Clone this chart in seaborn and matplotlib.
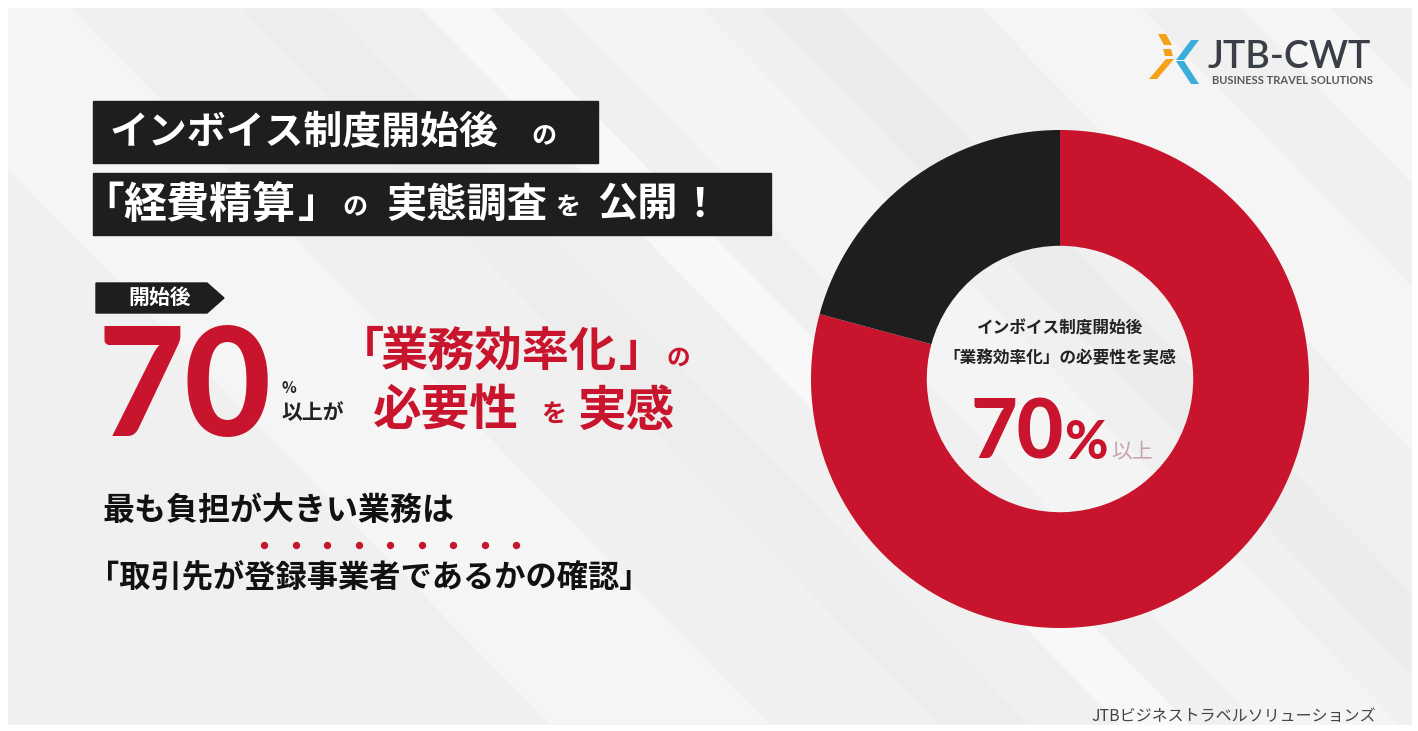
import matplotlib
matplotlib.use("Agg")
import matplotlib.pyplot as plt
from matplotlib.patches import Polygon, Rectangle
import seaborn as sns

# data
segments = ["業務効率化の必要性を実感", "その他"]
shares = [79.2, 20.8]
headline_pct = "70"
center_pct = "70"

sns.set_theme(style="white")
plt.rcParams["font.family"] = ["Noto Sans CJK JP", "DejaVu Sans"]

RED = "#c8142c"
BLACK = "#1e1e1e"
colors = sns.color_palette([RED, BLACK])

W, H = 1418, 731
fig = plt.figure(figsize=(W / 100, H / 100), dpi=100)
fig.patch.set_facecolor("white")

# background axes in pixel coordinates (y down)
bg = fig.add_axes([0, 0, 1, 1])
bg.set_xlim(0, W)
bg.set_ylim(H, 0)
bg.axis("off")

bg.add_patch(Rectangle((7, 7), 1405, 718, color="#f0f0f0", zorder=0))
# soft diagonal streaks
streaks = [(-150, 220, "white", 0.35), (240, 90, "#e8e8e8", 0.3),
           (420, 70, "white", 0.55), (560, 140, "white", 0.3),
           (760, 80, "#e6e6e6", 0.3), (980, 160, "white", 0.35),
           (1240, 90, "white", 0.45), (1400, 120, "#e9e9e9", 0.25)]
for x0, w, c, a in streaks:
    bg.add_patch(Polygon([(x0, 7), (x0 + w, 7), (x0 + w + 700, 725), (x0 + 700, 725)],
                         closed=True, color=c, alpha=a, lw=0, zorder=0.5))
bg.add_patch(Rectangle((0, 0), W, 7, color="white", zorder=0.6))
bg.add_patch(Rectangle((0, 0), 7, H, color="white", zorder=0.6))
bg.add_patch(Rectangle((0, 725), W, 6, color="white", zorder=0.6))
bg.add_patch(Rectangle((1412, 0), 6, H, color="white", zorder=0.6))

# title boxes
bg.add_patch(Rectangle((93, 101), 505, 62, color=BLACK, zorder=1))
bg.add_patch(Rectangle((93, 173), 678, 62, color=BLACK, zorder=1))
kw = dict(color="white", weight="bold", va="center", ha="left", zorder=2)
bg.text(110, 133, "インボイス制度開始後", fontsize=28, **kw)
bg.text(531, 137, "の", fontsize=18, **kw)
bg.text(82, 205, "「", fontsize=30, **kw)
bg.text(123, 205, "経費精算", fontsize=31, **kw)
bg.text(298, 205, "」", fontsize=30, **kw)
bg.text(342, 208, "の", fontsize=18, **kw)
bg.text(386, 205, "実態調査", fontsize=29, **kw)
bg.text(555, 208, "を", fontsize=18, **kw)
bg.text(597, 205, "公開", fontsize=29, **kw)
bg.text(699, 205, "！", fontsize=29, color="white", weight="bold", va="center",
        ha="center", zorder=2)

# tag
bg.add_patch(Polygon([(96, 283), (207, 283), (224, 298), (207, 313), (96, 313)],
                     closed=True, color=BLACK, zorder=1))
bg.text(160, 297, "開始後", fontsize=15, color="white", weight="bold",
        ha="center", va="center", zorder=2)

# big headline
bg.text(97, 436, headline_pct, fontsize=108, color=RED, weight="black",
        family=["Lato", "DejaVu Sans"], ha="left", va="baseline", zorder=2)
bg.text(282, 388, "%", fontsize=11, color="#222", weight="bold", ha="left", va="center")
bg.text(281, 413, "以上が", fontsize=15, color="#222", weight="bold", ha="left", va="center")
rk = dict(color=RED, weight="bold", va="center", ha="left", zorder=2)
bg.text(337, 352, "「", fontsize=34, **rk)
bg.text(381, 352, "業務効率化", fontsize=34, **rk)
bg.text(619, 352, "」", fontsize=34, **rk)
bg.text(667, 358, "の", fontsize=17, **rk)
bg.text(373, 411, "必要性", fontsize=35, **rk)
bg.text(541, 415, "を", fontsize=18, **rk)
bg.text(578, 411, "実感", fontsize=35, **rk)

# bottom statements
bg.text(103, 511, "最も負担が大きい業務は", fontsize=23, color="#111", weight="bold",
        ha="left", va="center")
bg.text(88, 578, "「取引先が登録事業者であるかの確認」", fontsize=22.5, color="#111",
        weight="bold", ha="left", va="center")
dot_x = [264 + 31.5 * k for k in range(9)]
bg.scatter(dot_x, [545] * len(dot_x), s=28, color=RED, lw=0, zorder=2)

# logo
orange, blue = "#f5a21b", "#3aaed8"
for pts, c in [([(1158, 34), (1166, 34), (1172, 45), (1164, 45)], orange),
               ([(1163, 49), (1171, 49), (1173, 56), (1165, 56)], orange),
               ([(1166, 59), (1174, 59), (1157, 79), (1149, 79)], orange),
               ([(1191, 40), (1199, 40), (1184, 60), (1176, 60)], blue),
               ([(1176, 61), (1184, 61), (1199, 84), (1191, 84)], blue)]:
    bg.add_patch(Polygon(pts, closed=True, color=c, lw=0, zorder=2))
bg.text(1208, 68, "JTB-CWT", fontsize=27, color="#3a3f47", family=["Lato", "DejaVu Sans"],
        weight=600, ha="left", va="baseline")
bg.text(1212, 80, "BUSINESS TRAVEL SOLUTIONS", fontsize=8, color="#555a60",
        family=["Lato", "DejaVu Sans"], weight="bold", ha="left", va="center")

bg.text(1376, 717, "JTBビジネストラベルソリューションズ", fontsize=11.5, color="#444",
        ha="right", va="center")

# donut chart
cx, cy, r = 1060, 379, 249
ax = fig.add_axes([(cx - r) / W, (H - cy - r) / H, 2 * r / W, 2 * r / H])
ax.pie(shares, labels=None, colors=colors, startangle=90, counterclock=False,
       radius=1, wedgeprops=dict(width=0.465, edgecolor="none"))
ax.set_xlim(-1, 1)
ax.set_ylim(-1, 1)
ax.set_aspect("equal")
ax.axis("off")

ax.text(0, 0.205, "インボイス制度開始後", fontsize=12, color="#222", weight="bold",
        ha="center", va="center")
ax.text(0, 0.085, "「業務効率化」の必要性を実感", fontsize=12, color="#222", weight="bold",
        ha="center", va="center")
ax.text(-0.36, -0.32, center_pct, fontsize=58, color=RED, weight="black",
        family=["Lato", "DejaVu Sans"], ha="left", va="baseline")
ax.text(0.018, -0.32, "%", fontsize=38, color=RED, weight="black",
        family=["Lato", "DejaVu Sans"], ha="left", va="baseline")
ax.text(0.205, -0.32, "以上", fontsize=15, color="#c6a3aa", ha="left", va="baseline")

fig.savefig("out.png", dpi=100)
